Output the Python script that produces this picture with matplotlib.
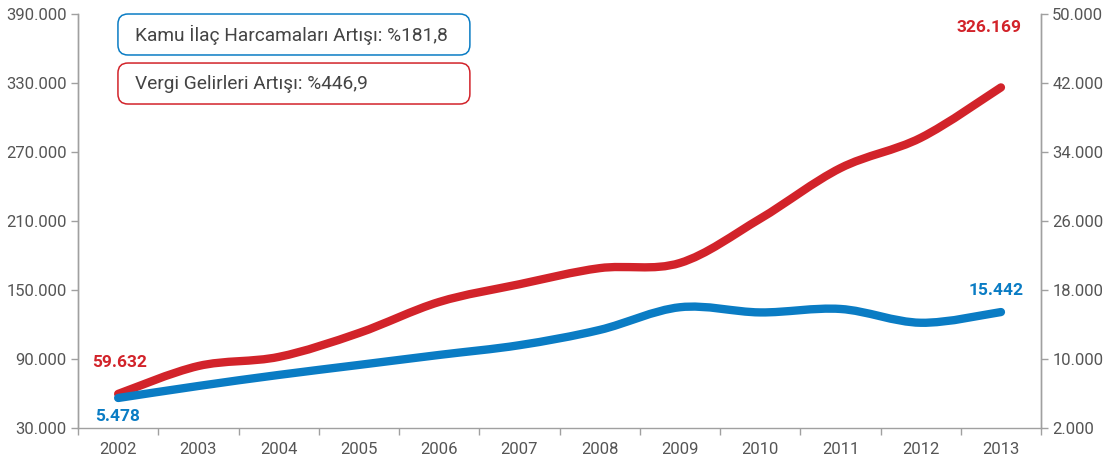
import matplotlib
matplotlib.use("Agg")
import matplotlib.pyplot as plt
import numpy as np
from matplotlib.path import Path
from matplotlib.patches import PathPatch, FancyBboxPatch

plt.rcParams["font.family"] = ["Roboto", "DejaVu Sans"]

years = ["2002", "2003", "2004", "2005", "2006", "2007",
         "2008", "2009", "2010", "2011", "2012", "2013"]
# Vergi gelirleri (left axis)
tax_revenue = [59632, 83900, 91800, 112600, 139600, 155000,
               169000, 173500, 212000, 256000, 282300, 326169]
# Kamu ilaç harcamaları (right axis)
drug_spending = [5478, 6870, 8150, 9310, 10470, 11600,
                 13370, 16000, 15400, 15800, 14200, 15442]

left_ticks = [30000, 90000, 150000, 210000, 270000, 330000, 390000]
right_ticks = [2000, 10000, 18000, 26000, 34000, 42000, 50000]

legend_texts = ["Kamu İlaç Harcamaları Artışı: %181,8",
                "Vergi Gelirleri Artışı: %446,9"]

RED = "#d2232a"
BLUE = "#0a7cc4"
GRAY_TXT = "#555555"
GRAY_AX = "#a0a0a0"


def fmt(v):
    return f"{v:,.0f}".replace(",", ".")


def smooth_path(xs, ys):
    # Catmull-Rom curve through the points, as cubic Bezier segments
    pts = np.column_stack([xs, ys]).astype(float)
    ext = np.vstack([pts[0], pts, pts[-1]])
    verts = [pts[0]]
    codes = [Path.MOVETO]
    for i in range(1, len(ext) - 2):
        p0, p1, p2, p3 = ext[i - 1], ext[i], ext[i + 1], ext[i + 2]
        verts += [p1 + (p2 - p0) / 6, p2 - (p3 - p1) / 6, p2]
        codes += [Path.CURVE4] * 3
    return Path(verts, codes)


fig = plt.figure(figsize=(11.18, 4.70), dpi=100)
ax = fig.add_axes([0.0698, 0.0894, 0.8614, 0.8808])
ax2 = ax.twinx()

x = np.arange(len(years))

red_patch = PathPatch(smooth_path(x, tax_revenue), fill=False, edgecolor=RED,
                      lw=6, capstyle="round", joinstyle="round", zorder=3)
ax.add_patch(red_patch)
blue_patch = PathPatch(smooth_path(x, drug_spending), fill=False, edgecolor=BLUE,
                       lw=6, capstyle="round", joinstyle="round", zorder=4)
ax2.add_patch(blue_patch)

ax.set_xlim(-0.5, len(years) - 0.5)
ax.set_ylim(left_ticks[0], left_ticks[-1])
ax2.set_ylim(right_ticks[0], right_ticks[-1])

ax.set_yticks(left_ticks)
ax.set_yticklabels([fmt(v) for v in left_ticks])
ax2.set_yticks(right_ticks)
ax2.set_yticklabels([fmt(v) for v in right_ticks])

# category boundaries as ticks, year labels centred between them
ax.set_xticks(np.arange(-0.5, len(years), 1.0))
ax.set_xticklabels([])
ax.set_xticks(x, minor=True)
ax.set_xticklabels(years, minor=True)
ax.tick_params(axis="x", which="major", length=5, color=GRAY_AX, width=1)
ax.tick_params(axis="x", which="minor", length=0, pad=10,
               labelsize=12, labelcolor=GRAY_TXT)
ax.tick_params(axis="y", length=5, color=GRAY_AX, width=1,
               labelsize=12, labelcolor=GRAY_TXT, pad=3)
ax2.tick_params(axis="y", length=5, color=GRAY_AX, width=1,
                labelsize=12, labelcolor=GRAY_TXT, pad=3)

for a in (ax, ax2):
    a.spines["top"].set_visible(False)
    for s in ("left", "right", "bottom"):
        a.spines[s].set_color(GRAY_AX)
        a.spines[s].set_linewidth(1)
ax2.spines["bottom"].set_visible(False)

# value labels at the ends
ax.annotate(fmt(tax_revenue[0]), (x[0], tax_revenue[0]), xytext=(1, 31),
            textcoords="offset pixels", ha="center", va="center",
            color=RED, fontsize=12.5, fontweight="bold")
ax.annotate(fmt(tax_revenue[-1]), (x[-1], tax_revenue[-1]), xytext=(-12, 60),
            textcoords="offset pixels", ha="center", va="center",
            color=RED, fontsize=12.5, fontweight="bold")
ax2.annotate(fmt(drug_spending[0]), (x[0], drug_spending[0]), xytext=(-1, -19),
             textcoords="offset pixels", ha="center", va="center",
             color=BLUE, fontsize=12.5, fontweight="bold")
ax2.annotate(fmt(drug_spending[-1]), (x[-1], drug_spending[-1]), xytext=(-5, 22),
             textcoords="offset pixels", ha="center", va="center",
             color=BLUE, fontsize=12.5, fontweight="bold")

# rounded legend boxes
aspect = 1118 / 470
for i, (label, col) in enumerate(zip(legend_texts, [BLUE, RED])):
    y0 = 0.883 - i * 0.1043
    box = FancyBboxPatch((0.1055, y0), 0.3148, 0.0872,
                         boxstyle="round,pad=0,rounding_size=0.009",
                         mutation_aspect=aspect, transform=fig.transFigure,
                         facecolor="white", edgecolor=col, lw=1.1, zorder=5)
    fig.patches.append(box)
    fig.text(0.1205, y0 + 0.0436, label, ha="left", va="center",
             fontsize=13.8, color="#444444", zorder=6)

fig.savefig("out.png", dpi=100)
